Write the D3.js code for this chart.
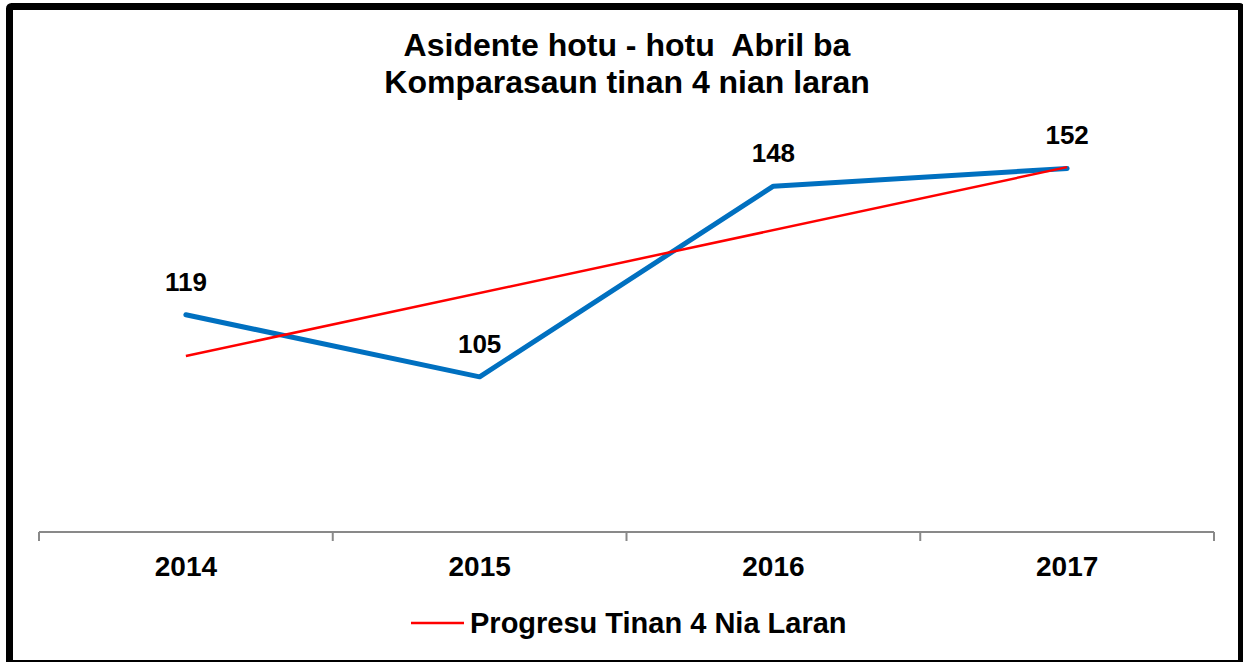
<!DOCTYPE html>
<html>
<head>
<meta charset="utf-8">
<script src="https://cdn.jsdelivr.net/npm/d3@7"></script>
<style>
  html, body { margin: 0; padding: 0; background: #fff; }
  svg { display: block; font-family: "Liberation Sans", Arial, sans-serif; }
</style>
</head>
<body>
<svg id="chart" width="1243" height="662"></svg>
<script>
// ---- data ----
const categories = ["2014", "2015", "2016", "2017"];
const values = [119, 105, 148, 152];
const titleLines = ["Asidente hotu - hotu  Abril ba", "Komparasaun tinan 4 nian laran"];
const legendLabel = "Progresu Tinan 4 Nia Laran";

const W = 1243, H = 662;
const svg = d3.select("#chart");

// frame
svg.append("rect")
  .attr("x", 9.5).attr("y", 6.5)
  .attr("width", 1232).attr("height", 657)
  .attr("rx", 2)
  .attr("fill", "#fff").attr("stroke", "#000").attr("stroke-width", 7);

// scales
const x = d3.scaleBand().domain(categories).range([39, 1214]);
const cx = d => x(d) + x.bandwidth() / 2;
const y = d3.scaleLinear().domain([70, 160]).range([532, 133]);

// title
const title = svg.append("text")
  .attr("text-anchor", "middle")
  .attr("font-weight", "bold")
  .attr("font-size", 32)
  .style("white-space", "pre")
  .attr("fill", "#000");
titleLines.forEach((t, i) => {
  title.append("tspan").attr("x", 627).attr("y", 56 + i * 37).text(t);
});

// axis
const axisG = svg.append("g");
axisG.append("line")
  .attr("x1", x.range()[0]).attr("x2", x.range()[1])
  .attr("y1", y(70)).attr("y2", y(70))
  .attr("stroke", "#898989").attr("stroke-width", 2);
const bounds = categories.map(d => x(d)).concat([x.range()[1]]);
axisG.selectAll("line.tick").data(bounds).join("line")
  .attr("class", "tick")
  .attr("x1", d => d).attr("x2", d => d)
  .attr("y1", y(70)).attr("y2", y(70) + 9)
  .attr("stroke", "#898989").attr("stroke-width", 2);

const xAxis = d3.axisBottom(x).tickSize(0).tickPadding(0);
const xg = svg.append("g").attr("transform", `translate(0,${y(70)})`).call(xAxis);
xg.select(".domain").remove();
xg.selectAll("text")
  .attr("y", 44).attr("dy", 0)
  .attr("font-family", "Liberation Sans, Arial, sans-serif")
  .attr("font-size", 28).attr("font-weight", "bold").attr("fill", "#000");

// linear trend (least squares on the series, like a spreadsheet trendline)
const idx = values.map((v, i) => i + 1);
const mx = d3.mean(idx), my = d3.mean(values);
const slope = d3.sum(idx.map((xi, i) => (xi - mx) * (values[i] - my))) / d3.sum(idx.map(xi => (xi - mx) ** 2));
const intercept = my - slope * mx;
const trend = idx.map(xi => intercept + slope * xi);

// data line
const line = d3.line().x((d, i) => cx(categories[i])).y(d => y(d));
svg.append("path").datum(values)
  .attr("d", line)
  .attr("fill", "none").attr("stroke", "#0070C0")
  .attr("stroke-width", 5).attr("stroke-linejoin", "round").attr("stroke-linecap", "round");

svg.append("path").datum([trend[0], trend[trend.length - 1]])
  .attr("d", d3.line().x((d, i) => cx(categories[i === 0 ? 0 : categories.length - 1])).y(d => y(d)))
  .attr("fill", "none").attr("stroke", "#FF0000").attr("stroke-width", 2.5);

// data labels
svg.selectAll("text.lbl").data(values).join("text")
  .attr("class", "lbl")
  .attr("x", (d, i) => cx(categories[i]))
  .attr("y", d => y(d) - 24)
  .attr("text-anchor", "middle")
  .attr("font-size", 26).attr("font-weight", "bold").attr("fill", "#000")
  .text(d => d);

// legend
const lg = svg.append("g");
lg.append("line").attr("x1", 411).attr("x2", 464).attr("y1", 623).attr("y2", 623)
  .attr("stroke", "#FF0000").attr("stroke-width", 2.5);
lg.append("text").attr("x", 470).attr("y", 633)
  .attr("font-size", 29).attr("font-weight", "bold").attr("fill", "#000")
  .text(legendLabel);
</script>
</body>
</html>
